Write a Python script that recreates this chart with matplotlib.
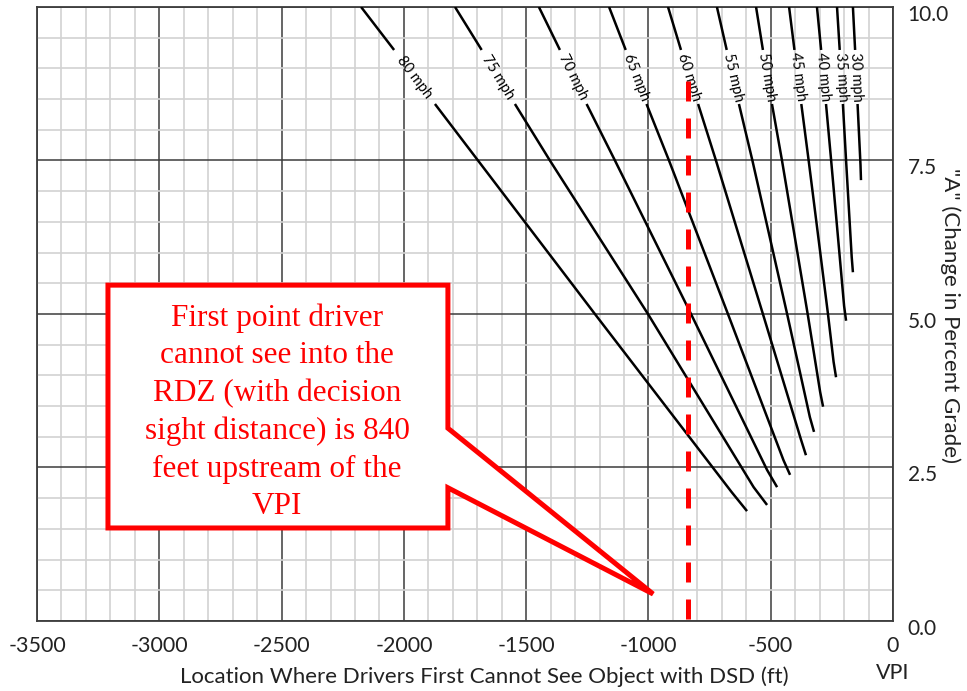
import numpy as np
import matplotlib.pyplot as plt
from matplotlib.patches import Polygon
from matplotlib.ticker import MultipleLocator
import matplotlib.transforms as mtransforms

plt.rcParams['axes.unicode_minus'] = False
nan = np.nan

# speed curves, nan marks the break left for the rotated label
speeds = [80, 75, 70, 65, 60, 55, 50, 45, 40, 35, 30]
x80 = [-2175, -2040, nan, -1873, -1697, -1219, -660, -597]
y80 = [10.0, 9.30, nan, 8.42, 7.5, 5.0, 2.10, 1.79]
x75 = [-1791, -1682, nan, -1546, -1403, -1002, -570, -515]
y75 = [10.0, 9.30, nan, 8.42, 7.5, 5.0, 2.18, 1.89]
x70 = [-1448, -1362, nan, -1253, -1137, -826, -515, -474]
y70 = [10.0, 9.30, nan, 8.42, 7.5, 5.0, 2.46, 2.18]
x65 = [-1161, -1093, nan, -1008, -916, -675, -448, -421]
y65 = [10.0, 9.30, nan, 8.42, 7.5, 5.0, 2.62, 2.38]
x60 = [-920, -867, nan, -797, -724, -532, -376, -356]
y60 = [10.0, 9.30, nan, 8.42, 7.5, 5.0, 2.95, 2.70]
x55 = [-720, -680, nan, -630, -575, -433, -340, -323]
y55 = [10.0, 9.30, nan, 8.42, 7.5, 5.0, 3.32, 3.08]
x50 = [-560, -532, nan, -495, -454, -349, -298, -286]
y50 = [10.0, 9.30, nan, 8.42, 7.5, 5.0, 3.73, 3.49]
x45 = [-425, -403, nan, -375, -345, -266, -243, -233]
y45 = [10.0, 9.30, nan, 8.42, 7.5, 5.0, 4.22, 3.97]
x40 = [-311, -294, nan, -274, -253, -200, -192]
y40 = [10.0, 9.30, nan, 8.42, 7.5, 5.13, 4.89]
x35 = [-229, -218, nan, -205, -192, -169, -164]
y35 = [10.0, 9.30, nan, 8.42, 7.5, 5.93, 5.68]
x30 = [-164, -155, nan, -145, -133, -131]
y30 = [10.0, 9.30, nan, 8.42, 7.43, 7.18]

curves_x = [x80, x75, x70, x65, x60, x55, x50, x45, x40, x35, x30]
curves_y = [y80, y75, y70, y65, y60, y55, y50, y45, y40, y35, y30]

# first point where the RDZ is hidden
dsd_point = -840
dsd_top = 8.8

xticks = [-3500, -3000, -2500, -2000, -1500, -1000, -500, 0]
xticklabels = ['-3500', '-3000', '-2500', '-2000', '-1500', '-1000', '-500', '0\nVPI']
yticks = [0.0, 2.5, 5.0, 7.5, 10.0]

callout_text = ('First point driver\ncannot see into the\nRDZ (with decision\n'
                'sight distance) is 840\nfeet upstream of the\nVPI')

fig = plt.figure(figsize=(9.67, 6.91), dpi=100)
ax = fig.add_axes([0.0383, 0.1013, 0.8852, 0.8886])
ax.set_xlim(-3500, 0)
ax.set_ylim(0, 10)

# graph paper grid
ax.xaxis.set_major_locator(MultipleLocator(500))
ax.xaxis.set_minor_locator(MultipleLocator(100))
ax.yaxis.set_major_locator(MultipleLocator(2.5))
ax.yaxis.set_minor_locator(MultipleLocator(0.5))
ax.grid(which='minor', color='#d2d2d2', lw=1.2, zorder=0)
ax.grid(which='major', color='#3c3c3c', lw=1.1, zorder=0.5)
ax.set_axisbelow(True)
for s in ax.spines.values():
    s.set_color('#3c3c3c')
    s.set_linewidth(1.3)

ax.set_xticks(xticks)
ax.set_xticklabels(xticklabels, fontsize=15.5, family='Lato', color='#222222',
                   linespacing=1.45)
ax.set_yticks(yticks)
ax.set_yticklabels(['%.1f' % v for v in yticks], fontsize=15, family='Lato',
                   color='#222222')
ax.tick_params(which='both', length=0)
ax.tick_params(axis='x', pad=11)
ax.tick_params(axis='y', left=False, labelleft=False, labelright=True, pad=10.5)
shift = mtransforms.ScaledTranslation(0, -6 / 100, fig.dpi_scale_trans)
for lab in ax.get_yticklabels():
    lab.set_transform(lab.get_transform() + shift)

# speed curves with inline labels
for spd, cx, cy in zip(speeds, curves_x, curves_y):
    ax.plot(cx, cy, color='black', lw=1.8, solid_capstyle='butt', zorder=3)
    gap = int(np.where(np.isnan(cx))[0][0])
    p0 = ax.transData.transform((cx[gap - 1], cy[gap - 1]))
    p1 = ax.transData.transform((cx[gap + 1], cy[gap + 1]))
    ang = np.degrees(np.arctan2(p1[1] - p0[1], p1[0] - p0[0]))
    ax.text((cx[gap - 1] + cx[gap + 1]) / 2, (cy[gap - 1] + cy[gap + 1]) / 2,
            '%d mph' % spd, rotation=ang, rotation_mode='anchor',
            ha='center', va='center', fontsize=10.5, family='Lato', zorder=4)

# red dashed marker line
ax.plot([dsd_point, dsd_point], [dsd_top, 0], color='red', lw=3.6,
        dashes=(4, 3.4), dash_capstyle='butt', zorder=5)

# speech-bubble callout
bubble = [(-3210, 5.47), (-1820, 5.47), (-1820, 3.14), (-981, 0.44),
          (-1820, 2.17), (-1820, 1.515), (-3210, 1.515)]
ax.add_patch(Polygon(bubble, closed=True, facecolor='white', edgecolor='red',
                     lw=3.6, joinstyle='miter', zorder=6))
ax.text(-2519, 3.40, callout_text, color='red', family='Liberation Serif',
        fontsize=22.5, ha='center', va='center', linespacing=1.38, zorder=7)

fig.text(484 / 967, 1 - 677 / 691,
         'Location Where Drivers First Cannot See Object with DSD (ft)',
         ha='center', va='center', fontsize=16, family='Lato', color='#222222')
fig.text(950 / 967, 1 - 316 / 691, '"A" (Change in Percent Grade)',
         rotation=270, ha='center', va='center', fontsize=16, family='Lato',
         color='#222222')

fig.savefig('out.png', dpi=100)
